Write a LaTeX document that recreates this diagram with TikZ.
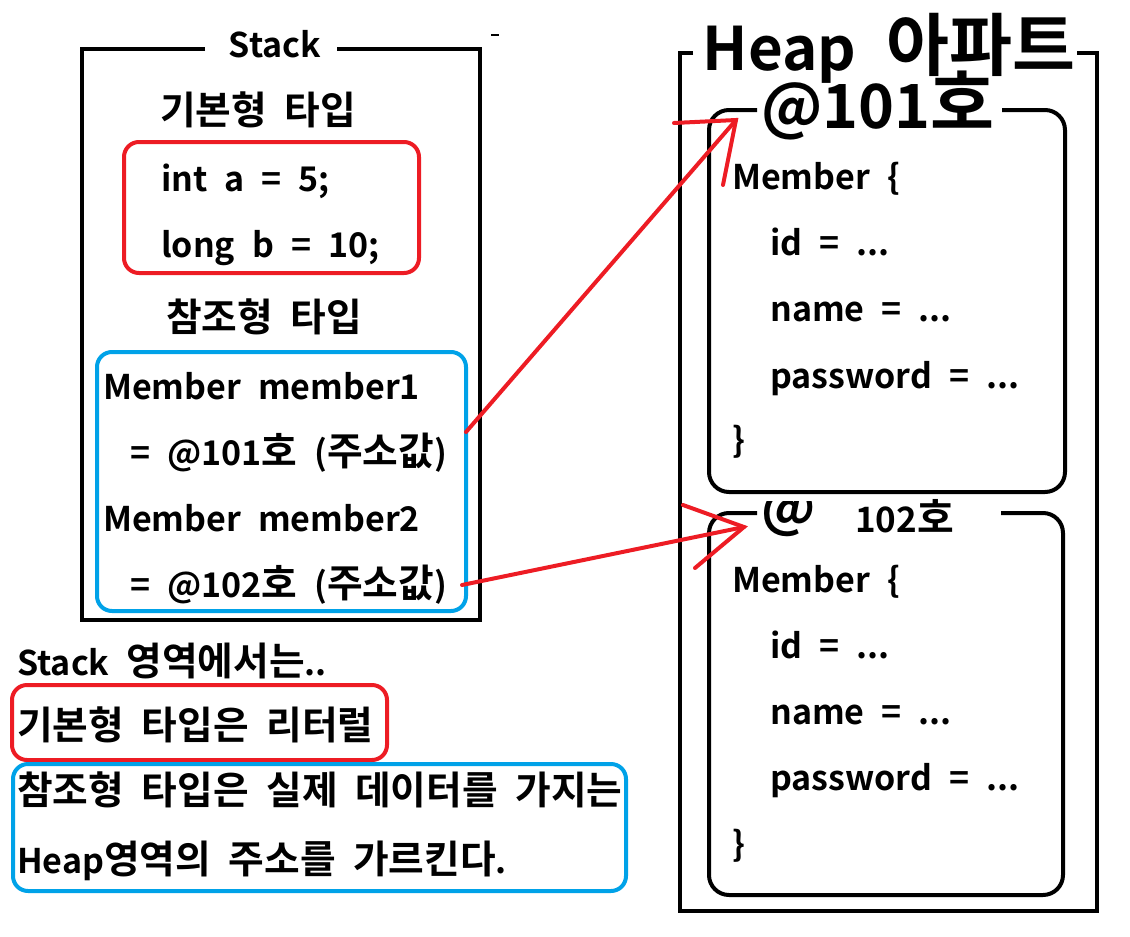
\documentclass[tikz,border=0pt]{standalone}
\usepackage{fontspec}
\setmainfont{Noto Sans CJK KR}[BoldFont=* Bold, WordSpace=2.2]
\newfontfamily\kfont{Noto Sans CJK KR}[BoldFont=* Bold, Scale=1.14, WordSpace=2.0]
\newcommand\K[1]{{\kfont\bfseries #1}}
\definecolor{pred}{HTML}{ED1C24}
\definecolor{pblue}{HTML}{00A2E8}
\begin{document}
\begin{tikzpicture}[x=1pt,y=-1pt,
  txt/.style={anchor=base west, inner sep=0, font=\fontsize{34}{40}\selectfont\bfseries},
  ctxt/.style={txt, anchor=base},
  frame/.style={draw=black, line width=4pt},
  rframe/.style={frame, rounded corners=20pt},
  redbox/.style={draw=pred, line width=4pt, rounded corners=15pt},
  bluebox/.style={draw=pblue, line width=4pt, rounded corners=15pt},
  parrow/.style={draw=pred, line width=4pt, line cap=round}]
\useasboundingbox (0,0) rectangle (1130,937);

% Stack frame
\draw[frame] (205,49) -- (82,49) -- (82,620) -- (480,620) -- (480,49) -- (337,49);
\node[ctxt] (stacktitle) at (275,57) {Stack};
\draw[line width=1.5pt] (491,35) -- (499,35);

\node[ctxt] (prim) at (258,124) {\K{기본형 타입}};
\node[redbox, minimum width=295pt, minimum height=131pt] (redA) at (271.5,207.5) {};
\node[txt] (inta) at (161,191) {int a = 5;};
\node[txt] (longb) at (161,257) {long b = 10;};

\node[ctxt] (ref) at (264,331) {\K{참조형 타입}};
\node[bluebox, minimum width=369pt, minimum height=259pt] (blueA) at (281.5,481.5) {};
\node[txt] (m1) at (103,399) {Member member1};
\node[txt] (m1v) at (130,465) {= @101\K{호} (\K{주소값})};
\node[txt] (m2) at (103,531) {Member member2};
\node[txt] (m2v) at (130,597) {= @102\K{호} (\K{주소값})};

% Heap frame
\draw[frame] (693,53) -- (680,53) -- (680,911) -- (1097,911) -- (1097,53) -- (1077,53);
\node[ctxt, font=\fontsize{60}{66}\selectfont\bfseries] (heaptitle) at (889,70) {Heap \K{아파트}};

% room 101
\draw[rframe] (757,110) -- (709,110) -- (709,492) -- (1065,492) -- (1065,110) -- (1002,110);
\node[ctxt, font=\fontsize{61}{66}\selectfont\bfseries] (r101) at (878,128) {@101\K{호}};
\node[txt] (h1a) at (732,189) {Member \{};
\node[txt] (h1b) at (770,255) {id = ...};
\node[txt] (h1c) at (770,321) {name = ...};
\node[txt] (h1d) at (770,388) {password = ...};
\node[txt] (h1e) at (732,452) {\}};

% room 102
\draw[rframe] (757,513) -- (709,513) -- (709,895) -- (1063,895) -- (1063,513) -- (1001,513);
\begin{scope}
\clip (740,501) rectangle (840,560);
\node[txt, font=\fontsize{54}{58}\selectfont\bfseries] (r102at) at (761,526) {@};
\end{scope}
\node[txt, font=\fontsize{35}{40}\selectfont\bfseries] (r102) at (855,532) {102\K{호}};
\node[txt] (h2a) at (732,592) {Member \{};
\node[txt] (h2b) at (770,658) {id = ...};
\node[txt] (h2c) at (770,724) {name = ...};
\node[txt] (h2d) at (770,790) {password = ...};
\node[txt] (h2e) at (732,856) {\}};

% bottom notes
\node[txt] (n1) at (17,675) {Stack \K{영역에서는}..};
\node[redbox, minimum width=375pt, minimum height=75pt] (redB) at (199.5,722.5) {};
\node[txt] (n2) at (17,739) {\K{기본형 타입은 리터럴}};
\node[bluebox, minimum width=613pt, minimum height=127pt] (blueB) at (319.5,827.5) {};
\node[txt] (n3) at (17,804) {\K{참조형 타입은 실제 데이터를 가지는}};
\node[txt] (n4) at (17,873) {Heap\K{영역의 주소를 가르킨다}.};

% arrows
\coordinate (a1s) at (466,432);
\coordinate (a1t) at (736,120);
\coordinate (a1b1) at (674,123);
\coordinate (a1b2) at (723,185);
\draw[parrow] (a1s) -- (a1t);
\draw[parrow] (a1b1) -- (a1t) -- (a1b2);

\coordinate (a2s) at (462,585);
\coordinate (a2t) at (744,527);
\coordinate (a2b1) at (683,505);
\coordinate (a2b2) at (695,568);
\draw[parrow] (a2s) -- (a2t);
\draw[parrow] (a2b1) -- (a2t) -- (a2b2);
\end{tikzpicture}
\end{document}
